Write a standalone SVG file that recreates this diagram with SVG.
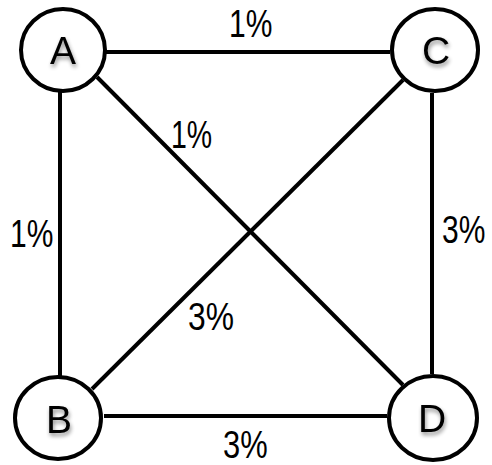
<svg xmlns="http://www.w3.org/2000/svg" width="492" height="465" viewBox="0 0 492 465">
  <defs>
    <filter id="shadow" x="-50%" y="-50%" width="200%" height="200%">
      <feGaussianBlur in="SourceAlpha" stdDeviation="2"/>
      <feOffset dx="1" dy="3" result="b"/>
      <feComponentTransfer><feFuncA type="linear" slope="0.45"/></feComponentTransfer>
      <feMerge><feMergeNode/><feMergeNode in="SourceGraphic"/></feMerge>
    </filter>
  </defs>
  <style>
    .edge { stroke: #000; stroke-width: 4; fill: none; }
    .node { fill: #fff; stroke: #000; stroke-width: 4; }
    .nl { font-family: "Liberation Sans", Arial, sans-serif; font-size: 39px; fill: #000; text-anchor: middle; filter: url(#shadow); }
    .el { font-family: "Liberation Sans", Arial, sans-serif; font-size: 30px; fill: #000; }
  </style>
  <rect width="492" height="465" fill="#fff"/>
  <g id="connectors">
    <line class="edge" x1="106" y1="52" x2="390" y2="52"/>
    <line class="edge" x1="60" y1="92" x2="60" y2="377"/>
    <line class="edge" x1="432" y1="93" x2="432" y2="374"/>
    <line class="edge" x1="104" y1="416" x2="387" y2="416"/>
    <line class="edge" x1="97" y1="77" x2="403" y2="385"/>
    <line class="edge" x1="403" y1="80" x2="92" y2="389"/>
    <text class="el" transform="translate(229,37) scale(1,1.3)">1%</text>
    <text class="el" transform="translate(171,148) scale(0.95,1.3)">1%</text>
    <text class="el" transform="translate(10,247) scale(1,1.3)">1%</text>
    <text class="el" transform="translate(442,243) scale(1,1.3)">3%</text>
    <text class="el" transform="translate(188,330) scale(1.06,1.3)">3%</text>
    <text class="el" transform="translate(223,458) scale(1.03,1.3)">3%</text>
  </g>
  <g id="A">
    <ellipse class="node" cx="63" cy="50" rx="42" ry="41"/>
    <text class="nl" x="63" y="64">A</text>
  </g>
  <g id="C">
    <ellipse class="node" cx="435" cy="50" rx="43" ry="41"/>
    <text class="nl" x="436" y="64">C</text>
  </g>
  <g id="B">
    <ellipse class="node" cx="58" cy="418" rx="43" ry="41"/>
    <text class="nl" x="59" y="433">B</text>
  </g>
  <g id="D">
    <ellipse class="node" cx="433" cy="418" rx="44" ry="42"/>
    <text class="nl" x="432" y="432">D</text>
  </g>
</svg>
